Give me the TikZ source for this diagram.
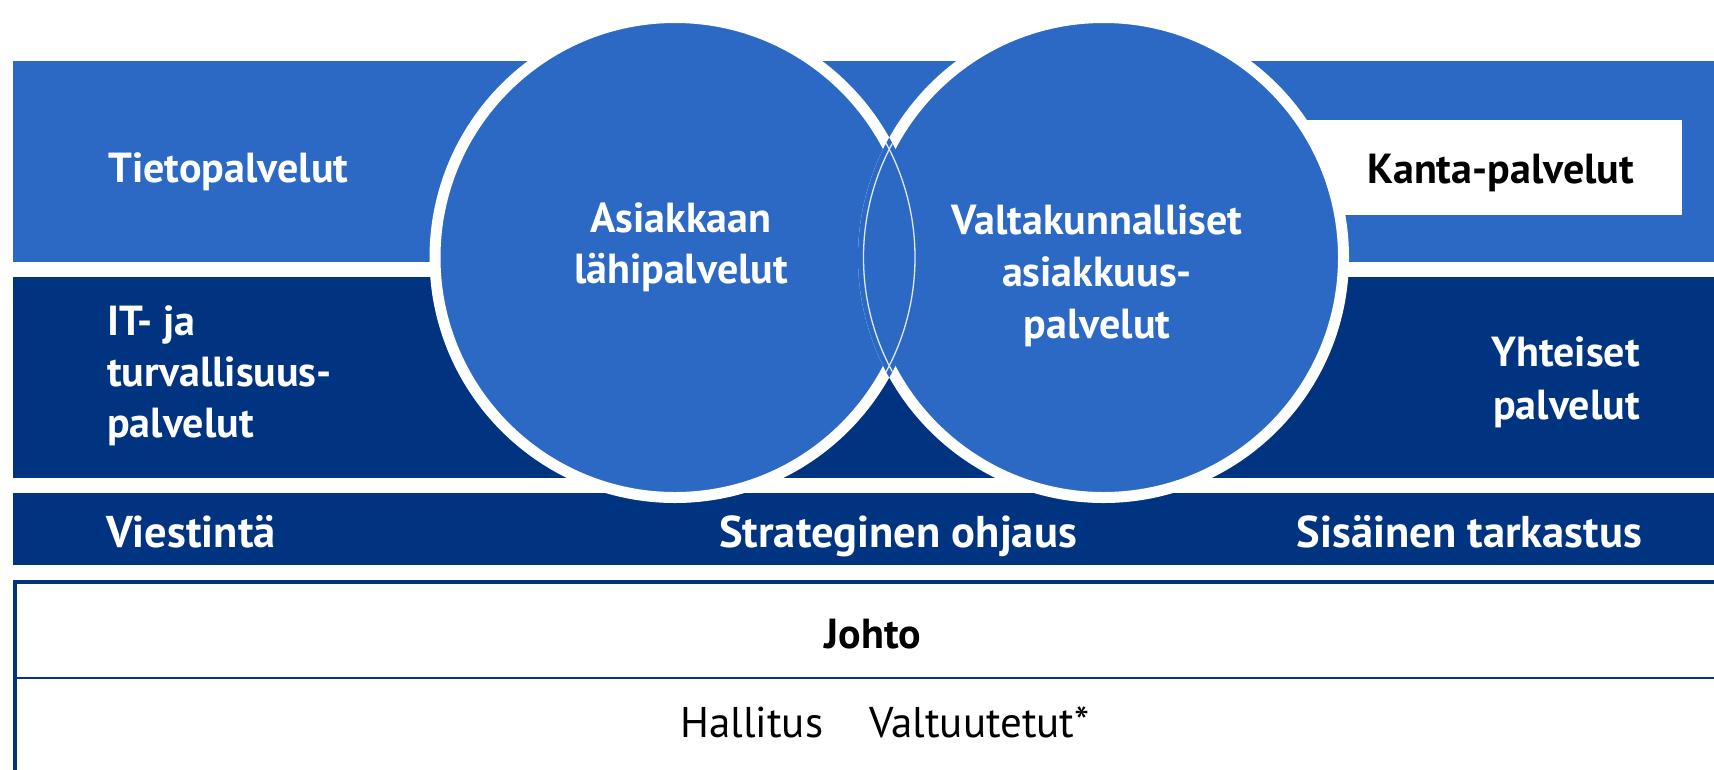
\documentclass[tikz,border=0pt]{standalone}
\usepackage{fontspec}
\setmainfont{PT Sans}
\definecolor{lblue}{RGB}{44,105,197}
\definecolor{navy}{RGB}{0,52,128}
\begin{document}
\begin{tikzpicture}[x=1pt,y=-1pt,
  lbl/.style={font=\fontsize{42}{51}\selectfont\bfseries, text=white, inner sep=0pt},
  blbl/.style={lbl, font=\fontsize{44.5}{52}\selectfont\bfseries},
  dlbl/.style={lbl, text=black},
  ring/.style={draw=white, line width=11pt, fill=lblue},
]
\useasboundingbox (0,0) rectangle (1714,769);
\fill[white] (0,0) rectangle (1714,769);
% bands
\fill[lblue] (13,61) rectangle (1714,262);
\fill[navy] (13,277) rectangle (1714,478);
\fill[navy] (13,493) rectangle (1714,565);
% Kanta box
\fill[white] (1300,120) rectangle (1682,215);
% bottom box
\draw[navy, line width=4pt] (1720,581.5) -- (14.5,581.5) -- (14.5,775);
\draw[navy, line width=2.5pt] (14.5,678) -- (1714,678);
% circles
\coordinate (c1) at (675,257.5);
\coordinate (c2) at (1103.5,257.5);
\path[ring] (c1) circle[radius=240];
\path[ring] (c2) circle[radius=240];
\begin{scope}
  \clip (c1) circle[radius=245.5];
  \clip (c2) circle[radius=245.5];
  \fill[lblue] (c1) circle[radius=246];
  \draw[white, opacity=0.85, line width=1.3pt] (c1) circle[radius=240] (c2) circle[radius=240];
\end{scope}
% texts
\node[lbl, anchor=base west] (tieto) at (108,182) {Tietopalvelut};
\node[lbl, anchor=base west, align=left] (it) at (107,437) {IT- ja\\turvallisuus-\\palvelut};
\node[blbl, anchor=base west] (viest) at (106,547) {Viestintä};
\node[lbl, anchor=base, align=center] (asiak) at (681,283) {Asiakkaan\\lähipalvelut};
\node[lbl, anchor=base, align=center, font=\fontsize{42}{52}\selectfont\bfseries] (valta) at (1097,338) {Valtakunnalliset\\asiakkuus-\\palvelut};
\node[lbl, anchor=base east, align=right, font=\fontsize{42}{53}\selectfont\bfseries] (yht) at (1640,419) {Yhteiset\\palvelut};
\node[dlbl, anchor=base] (kanta) at (1501,183) {Kanta-palvelut};
\node[blbl, anchor=base] (strat) at (898,547) {Strateginen ohjaus};
\node[blbl, anchor=base east] (sis) at (1642,547) {Sisäinen tarkastus};
\node[dlbl, anchor=base, font=\fontsize{42}{48}\selectfont\bfseries] (johto) at (873,648) {Johto};
\node[dlbl, anchor=base, font=\fontsize{43}{51}\selectfont] (hall) at (885,737) {Hallitus\hspace{46pt}Valtuutetut*};
\end{tikzpicture}
\end{document}
